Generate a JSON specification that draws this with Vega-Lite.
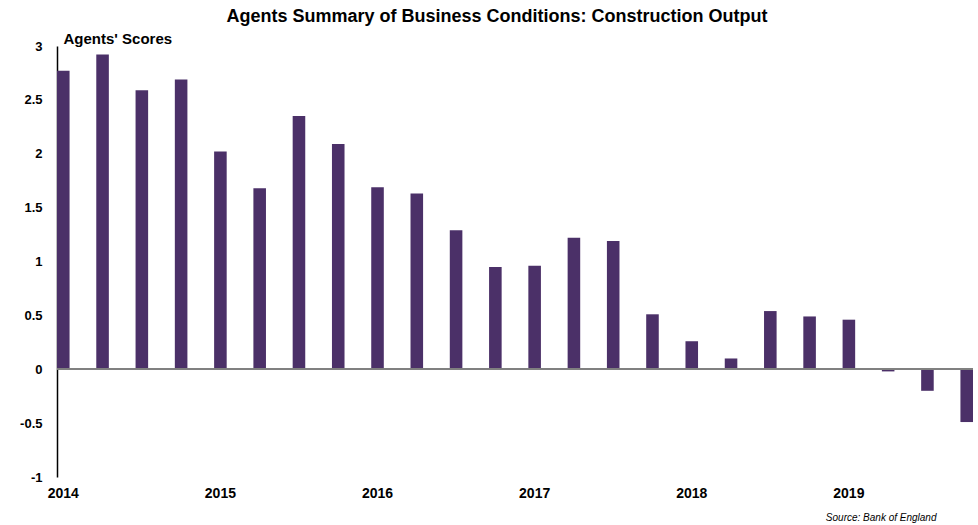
{
  "$schema": "https://vega.github.io/schema/vega-lite/v6.json",
  "autosize": {"type": "none"},
  "width": 916,
  "height": 431,
  "padding": {"left": 57, "top": 46, "right": 5, "bottom": 48},
  "background": "white",
  "config": {"view": {"stroke": null}, "font": "Liberation Sans"},
  "title": {
    "text": "Agents Summary of Business Conditions: Construction Output",
    "fontSize": 18,
    "fontWeight": "bold",
    "font": "Liberation Sans",
    "color": "#000000",
    "anchor": "middle",
    "dx": -18,
    "offset": 5
  },
  "data": {
    "values": [
      {"q": "2014 Q1", "v": 2.77},
      {"q": "2014 Q2", "v": 2.92},
      {"q": "2014 Q3", "v": 2.59},
      {"q": "2014 Q4", "v": 2.69},
      {"q": "2015 Q1", "v": 2.02},
      {"q": "2015 Q2", "v": 1.68},
      {"q": "2015 Q3", "v": 2.35},
      {"q": "2015 Q4", "v": 2.09},
      {"q": "2016 Q1", "v": 1.69},
      {"q": "2016 Q2", "v": 1.63},
      {"q": "2016 Q3", "v": 1.29},
      {"q": "2016 Q4", "v": 0.95},
      {"q": "2017 Q1", "v": 0.96},
      {"q": "2017 Q2", "v": 1.22},
      {"q": "2017 Q3", "v": 1.19},
      {"q": "2017 Q4", "v": 0.51},
      {"q": "2018 Q1", "v": 0.26},
      {"q": "2018 Q2", "v": 0.10},
      {"q": "2018 Q3", "v": 0.54},
      {"q": "2018 Q4", "v": 0.49},
      {"q": "2019 Q1", "v": 0.46},
      {"q": "2019 Q2", "v": -0.02},
      {"q": "2019 Q3", "v": -0.2},
      {"q": "2019 Q4", "v": -0.49}
    ]
  },
  "layer": [
    {
      "mark": {"type": "bar", "color": "#4B3068"},
      "encoding": {
        "x": {
          "field": "q",
          "type": "ordinal",
          "sort": null,
          "scale": {"paddingInner": 0.68, "paddingOuter": 0},
          "axis": {
            "labelExpr": "indexof(datum.value, 'Q1') >= 0 ? slice(datum.value, 0, 4) : ''",
            "labelAngle": 0,
            "labelOverlap": false,
            "labelFlush": false,
            "labelBound": false,
            "labelFont": "Liberation Sans",
            "labelFontSize": 14,
            "labelFontWeight": "bold",
            "labelColor": "#000000",
            "labelPadding": 9,
            "domain": false,
            "ticks": false,
            "grid": false,
            "title": "Source: Bank of England",
            "titleFont": "Liberation Sans",
            "titleFontStyle": "italic",
            "titleFontWeight": "normal",
            "titleFontSize": 10,
            "titleColor": "#000000",
            "titleAlign": "right",
            "titleBaseline": "middle",
            "titleX": 879,
            "titleY": 40
          }
        },
        "y": {
          "field": "v",
          "type": "quantitative",
          "scale": {"domain": [-1, 3], "nice": false, "zero": false},
          "axis": {
            "values": [-1, -0.5, 0, 0.5, 1, 1.5, 2, 2.5, 3],
            "labelExpr": "'' + datum.value",
            "labelFont": "Liberation Sans",
            "labelFontSize": 13,
            "labelFontWeight": "bold",
            "labelColor": "#000000",
            "labelPadding": 15,
            "ticks": false,
            "grid": false,
            "domain": true,
            "domainColor": "#000000",
            "domainWidth": 1.5,
            "title": "Agents' Scores",
            "titleAngle": 0,
            "titleFont": "Liberation Sans",
            "titleFontSize": 15,
            "titleFontWeight": "bold",
            "titleColor": "#000000",
            "titleAlign": "left",
            "titleBaseline": "alphabetic",
            "titleX": 6,
            "titleY": -3
          }
        }
      }
    },
    {
      "mark": {"type": "rule", "color": "#808080", "strokeWidth": 1.5},
      "encoding": {"y": {"datum": 0}}
    }
  ]
}
